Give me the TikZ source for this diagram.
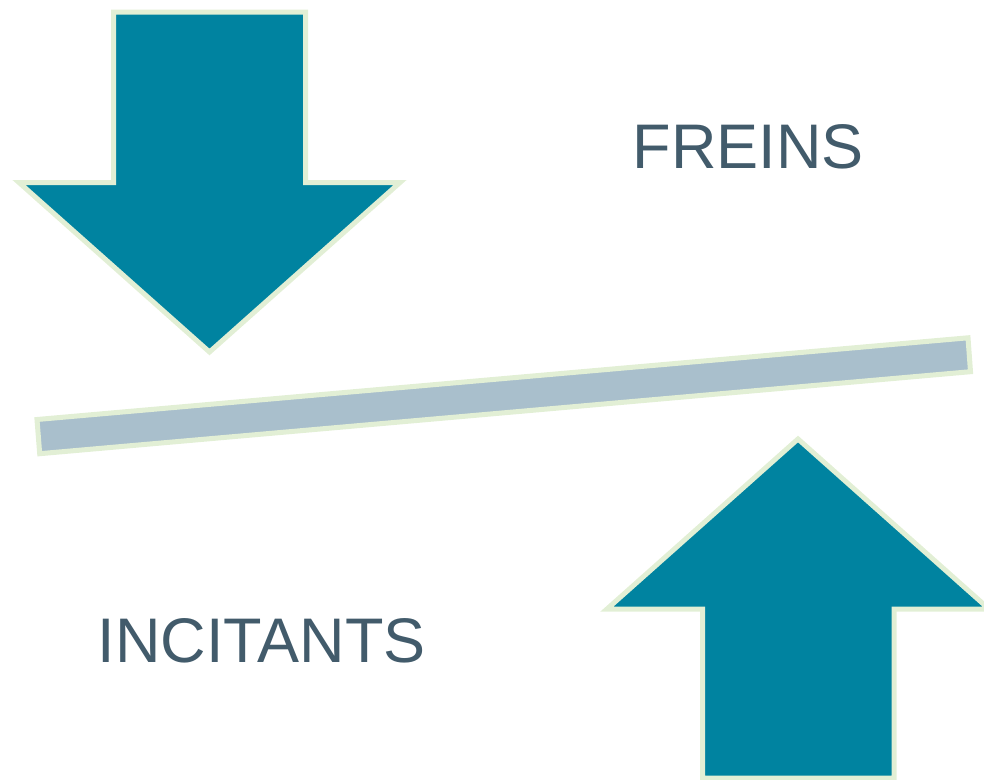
\documentclass[tikz,border=0pt]{standalone}
\usepackage{fontspec}
\setmainfont{Liberation Sans}
\definecolor{teal1}{HTML}{0083A0}
\definecolor{rim}{HTML}{E2EFD5}
\definecolor{barfill}{HTML}{A9BFCC}
\definecolor{txt}{HTML}{425B6B}
\tikzset{
  bigarrow/.style={fill=teal1, draw=rim, line width=5pt, line join=miter},
  barstyle/.style={fill=barfill, draw=rim, line width=5pt, line join=miter},
  label/.style={text=txt, inner sep=0pt, anchor=base, font=\fontsize{63}{76}\selectfont}
}
\begin{document}
\begin{tikzpicture}[x=1pt,y=-1pt]
\useasboundingbox (0,0) rectangle (984,779);
% down arrow
\draw[bigarrow] (113.5,12) -- (305.5,12) -- (305.5,182.5) -- (400,182.5) -- (209.5,352) -- (19,182.5) -- (113.5,182.5) -- cycle;
% up arrow
\draw[bigarrow] (702.5,778) -- (702.5,609) -- (607,609) -- (798,439) -- (989,609) -- (894,609) -- (894,778) -- cycle;
% bar
\draw[barstyle] (37,419.5) -- (968,337.8) -- (970.5,371.7) -- (39.7,453.7) -- cycle;
% labels
\node[label] (freins) at (748.3,168.3) {FREINS};
\node[label] (incitants) at (261.7,662.7) {INCITANTS};
\end{tikzpicture}
\end{document}
